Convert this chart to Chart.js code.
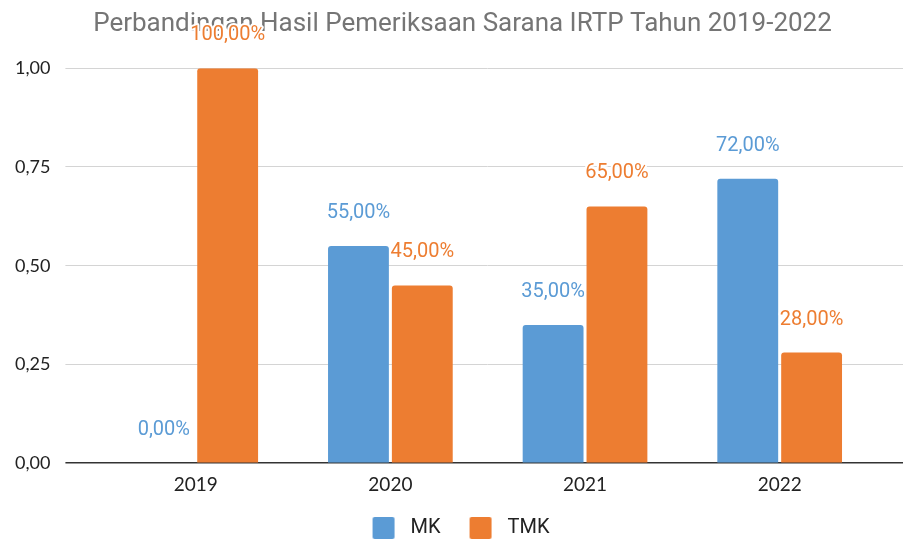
<!DOCTYPE html>
<html>
<head>
<meta charset="utf-8">
<script src="https://cdn.jsdelivr.net/npm/chart.js@4"></script>
<style>
html,body{margin:0;padding:0;background:#fff;}
#wrap{width:910px;height:540px;}
</style>
</head>
<body>
<div id="wrap"><canvas id="c" width="910" height="540"></canvas></div>
<script>
const categories = ['2019', '2020', '2021', '2022'];
const mkValues = [0, 0.55, 0.35, 0.72];
const tmkValues = [1.0, 0.45, 0.65, 0.28];
const seriesNames = ['MK', 'TMK'];
const titleText = 'Perbandingan Hasil Pemeriksaan Sarana IRTP Tahun 2019-2022';

const BLUE = '#5B9BD5';
const ORANGE = '#ED7D31';

function fmtComma(v, d) {
  return v.toFixed(d).replace('.', ',');
}

// legend marker image: a 22x22 rounded square with blank margins for spacing
function markerImage(color) {
  const c = document.createElement('canvas');
  c.width = 39; c.height = 22;
  const g = c.getContext('2d');
  g.fillStyle = color;
  g.beginPath();
  if (g.roundRect) g.roundRect(11, 0, 22, 22, 2); else g.rect(11, 0, 22, 22);
  g.fill();
  return c;
}
const markers = [markerImage(BLUE), markerImage(ORANGE)];

const dataLabelPlugin = {
  id: 'dataLabels',
  afterLayout(chart) {
    // nudge title and legend blocks slightly right, as in the reference
    if (chart.titleBlock) { chart.titleBlock.left += 22; }
    if (chart.legend) { chart.legend.left += 8; }
  },
  afterDatasetsDraw(chart) {
    const ctx = chart.ctx;
    chart.data.datasets.forEach((ds, i) => {
      const meta = chart.getDatasetMeta(i);
      meta.data.forEach((bar, j) => {
        const txt = fmtComma(ds.data[j] * 100, 2) + '%';
        ctx.save();
        ctx.font = '20px Roboto';
        ctx.textAlign = 'center';
        ctx.textBaseline = 'middle';
        ctx.lineWidth = 4;
        ctx.lineJoin = 'round';
        ctx.strokeStyle = '#ffffff';
        const y = bar.y - 33;
        ctx.strokeText(txt, bar.x, y);
        ctx.fillStyle = ds.backgroundColor;
        ctx.fillText(txt, bar.x, y);
        ctx.restore();
      });
    });
  }
};

const gridColor = (c) => (c.tick && c.tick.value === 0) ? '#333333' : '#d4d4d4';
const gridWidth = (c) => (c.tick && c.tick.value === 0) ? 1.5 : 1;

new Chart(document.getElementById('c'), {
  type: 'bar',
  data: {
    labels: categories,
    datasets: [
      { label: seriesNames[0], data: mkValues, backgroundColor: BLUE, borderRadius: 3, borderSkipped: 'bottom',
        categoryPercentage: 0.656, barPercentage: 0.953 },
      { label: seriesNames[1], data: tmkValues, backgroundColor: ORANGE, borderRadius: 3, borderSkipped: 'bottom',
        categoryPercentage: 0.656, barPercentage: 0.953 }
    ]
  },
  options: {
    responsive: false,
    animation: false,
    devicePixelRatio: 1,
    layout: { padding: { left: 0, right: 7, top: 0, bottom: -8 } },
    plugins: {
      title: {
        display: true,
        text: titleText,
        color: '#757575',
        font: { family: 'Roboto', size: 26, weight: 'normal' },
        padding: { top: 9, bottom: 28 }
      },
      legend: {
        position: 'bottom',
        labels: {
          color: '#222222',
          font: { family: 'Roboto', size: 20 },
          usePointStyle: true,
          pointStyleWidth: 39,
          boxHeight: 22,
          padding: 18,
          generateLabels: (chart) => {
            const items = Chart.defaults.plugins.legend.labels.generateLabels(chart);
            items.forEach((it, k) => { it.pointStyle = markers[k]; });
            return items;
          }
        }
      },
      tooltip: { enabled: false }
    },
    scales: {
      x: {
        grid: { display: false },
        border: { display: false },
        ticks: { color: '#222222', font: { family: 'Lato', size: 19 }, padding: 2 },
        afterFit: (scale) => { scale.height += 2; }
      },
      y: {
        min: 0, max: 1,
        ticks: {
          stepSize: 0.25,
          color: '#222222',
          font: { family: 'Lato', size: 18 },
          padding: 15,
          callback: (v) => fmtComma(v, 2)
        },
        grid: { color: gridColor, lineWidth: gridWidth, tickLength: 33, drawTicks: true },
        border: { display: false }
      },
      y2: {
        position: 'right',
        min: 0, max: 1,
        ticks: { stepSize: 0.25, display: false },
        grid: { color: gridColor, lineWidth: gridWidth, tickLength: 26, drawTicks: true, drawOnChartArea: false },
        border: { display: false }
      }
    }
  },
  plugins: [dataLabelPlugin]
});
</script>
</body>
</html>
